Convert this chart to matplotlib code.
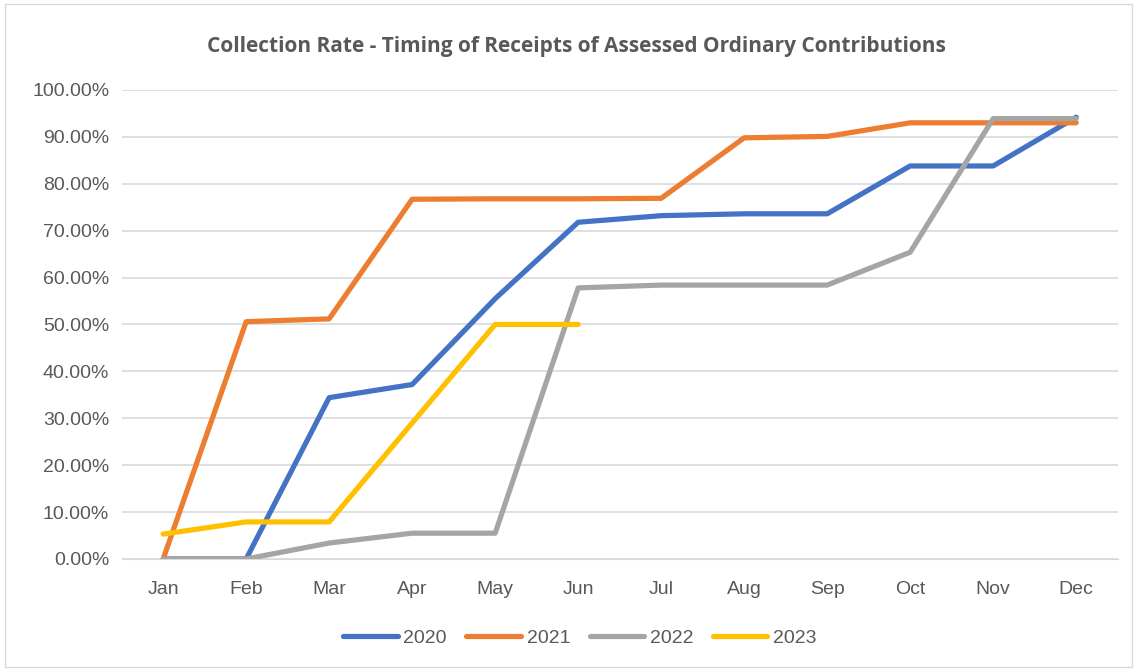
import matplotlib.pyplot as plt
from matplotlib.patches import Rectangle
from matplotlib.ticker import FuncFormatter, MultipleLocator

months = ["Jan", "Feb", "Mar", "Apr", "May", "Jun", "Jul", "Aug", "Sep", "Oct", "Nov", "Dec"]
rate_2020 = [0.0, 0.0, 34.4, 37.2, 55.5, 71.8, 73.2, 73.6, 73.6, 83.8, 83.8, 94.2]
rate_2021 = [0.0, 50.6, 51.2, 76.7, 76.8, 76.8, 76.9, 89.8, 90.1, 93.0, 93.0, 93.0]
rate_2022 = [0.0, 0.0, 3.4, 5.5, 5.5, 57.8, 58.4, 58.4, 58.4, 65.4, 93.9, 93.9]
rate_2023 = [5.3, 7.9, 7.9, 29.0, 50.0, 50.0]

series = [("2020", rate_2020, "#4472C4"),
          ("2021", rate_2021, "#ED7D31"),
          ("2022", rate_2022, "#A5A5A5"),
          ("2023", rate_2023, "#FFC000")]

plt.rcParams['font.family'] = ['Liberation Sans', 'DejaVu Sans']

fig = plt.figure(figsize=(11.37, 6.70), dpi=100)
ax = fig.add_axes([0.107, 0.1657, 0.876, 0.70])

x = list(range(len(months)))
for name, vals, color in series:
  ax.plot(x[:len(vals)], vals, color=color, lw=3.75, label=name, solid_capstyle='round')

ax.set_xlim(-0.5, 11.5)
ax.set_ylim(0, 100)
ax.set_xticks(x)
ax.set_xticklabels(months)
ax.yaxis.set_major_locator(MultipleLocator(10))
ax.yaxis.set_major_formatter(FuncFormatter(lambda v, p: f"{v:.2f}%"))
ax.grid(axis='y', color='#D9D9D9', lw=1.2)
ax.set_axisbelow(True)
for s in ['top', 'right', 'left']:
  ax.spines[s].set_visible(False)
ax.spines['bottom'].set_color('#D9D9D9')
ax.tick_params(axis='both', length=0, labelsize=14, labelcolor='#595959')
ax.tick_params(axis='x', pad=16)
ax.tick_params(axis='y', pad=9)

# Excel centres title and legend on the whole chart, not the plot area
ax.set_title("Collection Rate - Timing of Receipts of Assessed Ordinary Contributions",
             fontsize=15, fontweight='bold', color='#595959', pad=27, x=0.457,
             family=['Open Sans', 'DejaVu Sans'])

ax.legend(loc='upper center', bbox_to_anchor=(0.46, -0.113), ncol=4, frameon=False,
          fontsize=14, labelcolor='#595959', handlelength=2.8, handletextpad=0.3,
          columnspacing=1.0)

fig.patches.append(Rectangle((0.004, 0.004), 0.992, 0.99, transform=fig.transFigure,
                             fill=False, edgecolor='#D9D9D9', lw=1))

fig.savefig("out.png", dpi=100)
